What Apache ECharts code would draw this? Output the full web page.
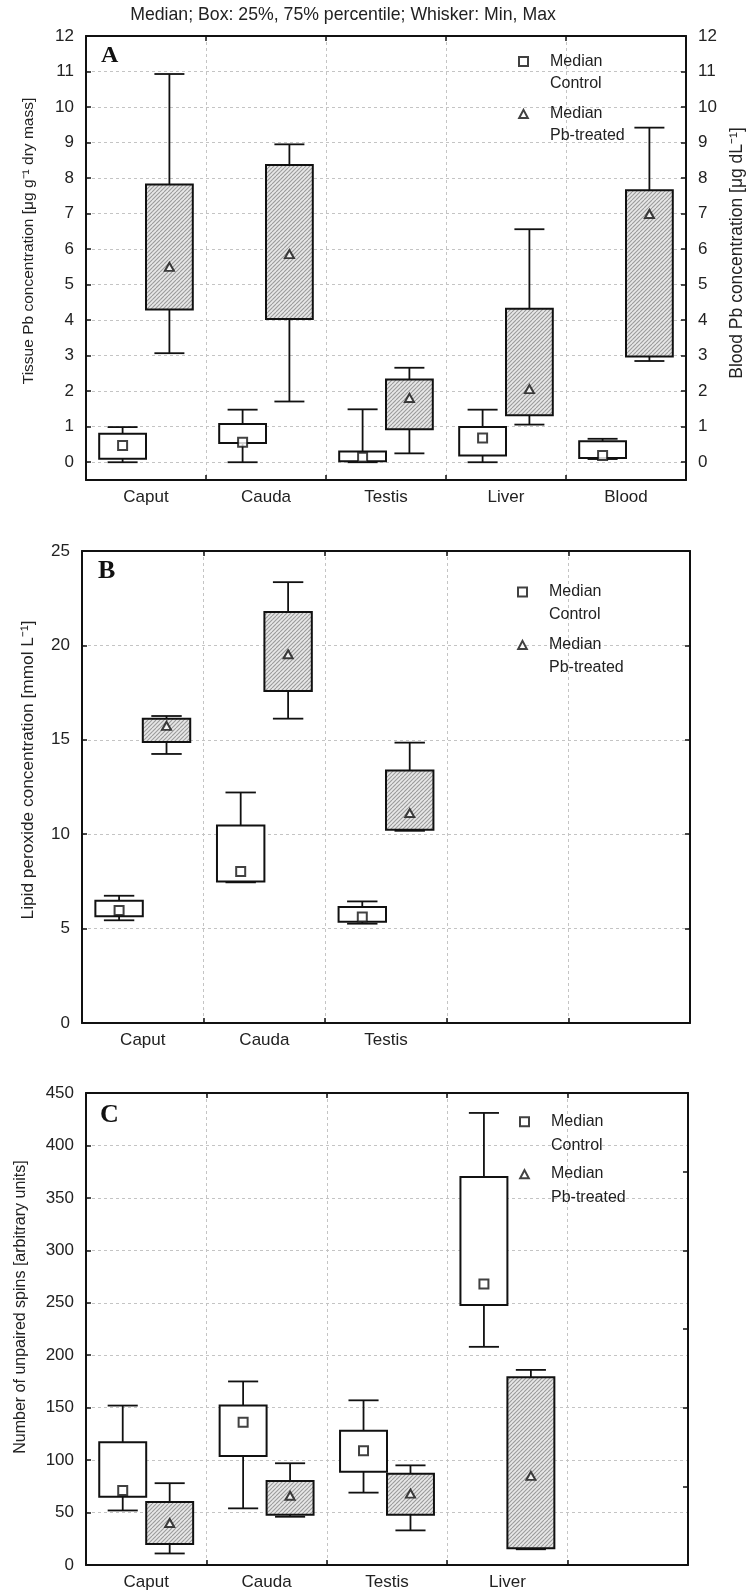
<!DOCTYPE html>
<html><head><meta charset="utf-8">
<script src="https://cdn.jsdelivr.net/npm/echarts@6/dist/echarts.min.js"></script>
<style>html,body{margin:0;padding:0;background:#fff}#c{width:756px;height:1594px}</style>
</head><body><div id="c"></div>
<script>
const FONT = '"Liberation Sans", Arial, Helvetica, sans-serif';
const TXT = '#222';

// ---------- data ----------
const titleText = 'Median; Box: 25%, 75% percentile; Whisker: Min, Max';
const catsA = ['Caput', 'Cauda', 'Testis', 'Liver', 'Blood'];
const catsB = ['Caput', 'Cauda', 'Testis', '', ''];
const catsC = ['Caput', 'Cauda', 'Testis', 'Liver', ''];
const ticksA = [0, 1, 2, 3, 4, 5, 6, 7, 8, 9, 10, 11, 12];
const ticksB = [0, 5, 10, 15, 20, 25];
const ticksC = [0, 50, 100, 150, 200, 250, 300, 350, 400, 450];
const ticksCRight = [0, 75, 150, 225, 300, 375, 450];
// each row: [min, q1, median, q3, max]
const controlA = [[0.00, 0.10, 0.47, 0.80, 0.99], [0.00, 0.54, 0.56, 1.08, 1.48], [0.00, 0.03, 0.14, 0.30, 1.49], [0.00, 0.19, 0.68, 0.99, 1.48], [0.09, 0.12, 0.19, 0.59, 0.66]];
const treatedA = [[3.07, 4.30, 5.50, 7.82, 10.93], [1.71, 4.03, 5.86, 8.37, 8.95], [0.25, 0.93, 1.81, 2.33, 2.66], [1.06, 1.32, 2.06, 4.32, 6.56], [2.85, 2.98, 6.99, 7.66, 9.42]];
const controlB = [[5.44, 5.65, 5.96, 6.48, 6.74], [7.45, 7.50, 8.03, 10.46, 12.21], [5.26, 5.36, 5.61, 6.14, 6.44]];
const treatedB = [[14.25, 14.89, 15.74, 16.12, 16.26], [16.12, 17.59, 19.53, 21.77, 23.35], [10.18, 10.23, 11.12, 13.37, 14.85]];
const controlC = [[52, 65, 71, 117, 152], [54, 104, 136, 152, 175], [69, 89, 109, 128, 157], [208, 248, 268, 370, 431]];
const treatedC = [[11, 20, 40, 60, 78], [46, 48, 66, 80, 97], [33, 48, 68, 87, 95], [15, 16, 85, 179, 186]];
const yNameA = 'Tissue Pb concentration [\u03BCg g\u207B\u00B9 dry mass]';
const yNameA2 = 'Blood Pb concentration [\u03BCg dL\u207B\u00B9]';
const yNameB = 'Lipid peroxide concentration [mmol L\u207B\u00B9]';
const yNameC = 'Number of unpaired spins [arbitrary units]';
const seriesNames = ['Median Control', 'Median Pb-treated'];

// ---------- styling / layout ----------
const grids = [
  { left: 86, top: 36, width: 600, height: 444 },
  { left: 82, top: 551, width: 608, height: 472 },
  { left: 86, top: 1093, width: 602, height: 472 }
];
const hatch = (function () {
  const c = document.createElement('canvas'); c.width = 8; c.height = 8;
  const g = c.getContext('2d');
  g.fillStyle = '#e8e8e8'; g.fillRect(0, 0, 8, 8);
  g.strokeStyle = '#9a9a9a'; g.lineWidth = 1.1;
  for (let k = -8; k <= 16; k += 4) { g.beginPath(); g.moveTo(k, 8); g.lineTo(k + 8, 0); g.stroke(); }
  return c;
})();
const BOX_HALF = 0.195, CAP_HALF = 0.125;
const LINE = '#111';

function boxRender(side, fill) {
  return function (params, api) {
    const i = api.value(0);
    const bw = api.size([1, 0])[0];
    const x = api.coord([i, api.value(3)])[0] + side * BOX_HALF * bw;
    const y = k => api.coord([i, api.value(k)])[1];
    const yMin = y(1), yQ1 = y(2), yQ3 = y(4), yMax = y(5);
    const hb = BOX_HALF * bw, hc = CAP_HALF * bw;
    const ls = { stroke: LINE, lineWidth: 1.8 };
    return {
      type: 'group', children: [
        { type: 'line', shape: { x1: x, y1: yMax, x2: x, y2: yQ3 }, style: ls },
        { type: 'line', shape: { x1: x, y1: yQ1, x2: x, y2: yMin }, style: ls },
        { type: 'line', shape: { x1: x - hc, y1: yMax, x2: x + hc, y2: yMax }, style: ls },
        { type: 'line', shape: { x1: x - hc, y1: yMin, x2: x + hc, y2: yMin }, style: ls },
        { type: 'rect', shape: { x: x - hb, y: yQ3, width: 2 * hb, height: yQ1 - yQ3 }, style: { fill: fill, stroke: LINE, lineWidth: 2 } }
      ]
    };
  };
}

const axisLineStyle = { color: LINE, width: 2 };
const tickBase = { show: true, inside: true, length: 5, lineStyle: { color: LINE, width: 1.5 } };
const gridLine = { show: true, lineStyle: { color: '#c4c4c4', width: 1, type: [3, 3] } };
const labelStyle = { fontSize: 17, color: TXT, fontFamily: FONT };

const xAxis = [], yAxis = [], series = [], legend = [];
const panels = [
  { cats: catsA, ctrl: controlA, trt: treatedA, y: { min: -0.5, max: 12, ticks: ticksA }, yName: yNameA, nameGap: 49, nameSize: 15.5, nameShift: 34,
    right: { min: -0.5, max: 12, ticks: ticksA, labels: true, name: yNameA2, nameGap: 42, nameSize: 17.5, nameShift: 10 }, leg: { left: 518, top: 50.5, lh: 22, gap: 8 } },
  { cats: catsB, ctrl: controlB, trt: treatedB, y: { min: 0, max: 25, ticks: ticksB }, yName: yNameB, nameGap: 45, nameSize: 17.3, nameShift: 34,
    right: { min: 0, max: 25, ticks: ticksB, labels: false }, leg: { left: 517, top: 580.5, lh: 23, gap: 6.5 } },
  { cats: catsC, ctrl: controlC, trt: treatedC, y: { min: 0, max: 450, ticks: ticksC }, yName: yNameC, nameGap: 57, nameSize: 16, nameShift: 44,
    right: { min: 0, max: 450, ticks: ticksCRight, labels: false }, leg: { left: 519, top: 1110, lh: 23.5, gap: 5 } }
];

panels.forEach((p, gi) => {
  const bw = grids[gi].width / p.cats.length;
  const off = BOX_HALF * bw;
  xAxis.push({
    type: 'category', gridIndex: gi, data: p.cats, position: 'bottom', boundaryGap: true,
    axisLine: { onZero: false, lineStyle: axisLineStyle }, axisTick: tickBase,
    axisLabel: Object.assign({ margin: 9, interval: 0 }, labelStyle), splitLine: gridLine
  });
  xAxis.push({
    type: 'category', gridIndex: gi, data: p.cats, position: 'top', boundaryGap: true,
    axisLine: { onZero: false, lineStyle: axisLineStyle }, axisTick: tickBase,
    axisLabel: { show: false }, splitLine: { show: false }
  });
  yAxis.push({
    type: 'value', gridIndex: gi, position: 'left', min: p.y.min, max: p.y.max,
    name: p.yName, nameLocation: 'middle', nameGap: p.nameGap,
    nameTextStyle: { fontSize: p.nameSize, color: TXT, fontFamily: FONT, padding: [0, 0, 0, p.nameShift] },
    axisLine: { show: true, onZero: false, lineStyle: axisLineStyle },
    axisTick: Object.assign({ customValues: p.y.ticks }, tickBase),
    axisLabel: Object.assign({ margin: 12, customValues: p.y.ticks }, labelStyle), splitLine: gridLine
  });
  yAxis.push({
    type: 'value', gridIndex: gi, position: 'right', min: p.right.min, max: p.right.max,
    name: p.right.name || '', nameLocation: 'middle', nameGap: p.right.nameGap || 0,
    nameTextStyle: { fontSize: p.right.nameSize || 15, color: TXT, fontFamily: FONT, padding: [0, 0, 0, p.right.nameShift || 0] },
    axisLine: { show: true, onZero: false, lineStyle: axisLineStyle },
    axisTick: Object.assign({ customValues: p.right.ticks }, tickBase),
    axisLabel: Object.assign({ show: p.right.labels, margin: 12, customValues: p.right.ticks }, labelStyle), splitLine: { show: false }
  });
  const xi = gi * 2, yi = gi * 2;
  series.push({
    type: 'custom', name: 'Control box', xAxisIndex: xi, yAxisIndex: yi, z: 3,
    renderItem: boxRender(-1, '#ffffff'), encode: { x: 0, y: [1, 2, 3, 4, 5] },
    data: p.ctrl.map((d, i) => [i].concat(d)), silent: true
  });
  series.push({
    type: 'custom', name: 'Pb-treated box', xAxisIndex: xi, yAxisIndex: yi, z: 3,
    renderItem: boxRender(1, { image: hatch, repeat: 'repeat' }), encode: { x: 0, y: [1, 2, 3, 4, 5] },
    data: p.trt.map((d, i) => [i].concat(d)), silent: true
  });
  series.push({
    type: 'scatter', name: seriesNames[0], xAxisIndex: xi, yAxisIndex: yi, z: 5,
    symbol: 'rect', symbolSize: 9, symbolOffset: [-off, 0],
    itemStyle: { color: '#fff', borderColor: LINE, borderWidth: 2 },
    data: p.ctrl.map((d, i) => [i, d[2]]), silent: true
  });
  series.push({
    type: 'scatter', name: seriesNames[1], xAxisIndex: xi, yAxisIndex: yi, z: 5,
    symbol: 'triangle', symbolSize: [9, 8], symbolOffset: [off, 0],
    itemStyle: { color: '#fff', borderColor: LINE, borderWidth: 2 },
    data: p.trt.map((d, i) => [i, d[2]]), silent: true
  });
  const lh = p.leg.lh;
  const H = 9 + lh;
  const ph = (H * 10 / 9).toFixed(2);
  legend.push({
    orient: 'vertical', left: p.leg.left, top: p.leg.top, padding: 0, itemGap: p.leg.gap,
    itemWidth: 9, itemHeight: H, selectedMode: false, symbolKeepAspect: true,
    itemStyle: { color: '#fff', borderColor: LINE, borderWidth: 2 },
    data: [
      { name: seriesNames[0], icon: 'path://M0,0L10,0L10,10L0,10Z M10,' + ph },
      { name: seriesNames[1], icon: 'path://M5,1L9.8,10L0.2,10Z M0,0 M10,' + ph }
    ],
    formatter: n => n.replace(' ', '\n'),
    textStyle: { fontSize: 16, lineHeight: lh, color: TXT, fontFamily: FONT, padding: [0, 0, 0, 17] }
  });
});

const letterStyle = { fontWeight: 'bold', fontFamily: '"Liberation Serif", "Times New Roman", serif', fill: '#111', textVerticalAlign: 'middle' };
const graphic = [
  { type: 'text', x: 343, y: 15, style: { text: titleText, fontSize: 17.7, fontFamily: FONT, fill: TXT, textAlign: 'center', textVerticalAlign: 'middle' } },
  { type: 'text', x: 101, y: 56, style: Object.assign({ text: 'A', fontSize: 24 }, letterStyle) },
  { type: 'text', x: 98, y: 571, style: Object.assign({ text: 'B', fontSize: 26 }, letterStyle) },
  { type: 'text', x: 100, y: 1115, style: Object.assign({ text: 'C', fontSize: 26 }, letterStyle) }
];

const chart = echarts.init(document.getElementById('c'), null, { renderer: 'canvas' });
chart.setOption({
  backgroundColor: '#ffffff',
  animation: false,
  textStyle: { fontFamily: FONT },
  grid: grids,
  xAxis: xAxis,
  yAxis: yAxis,
  legend: legend,
  graphic: graphic,
  series: series
});
</script></body></html>
